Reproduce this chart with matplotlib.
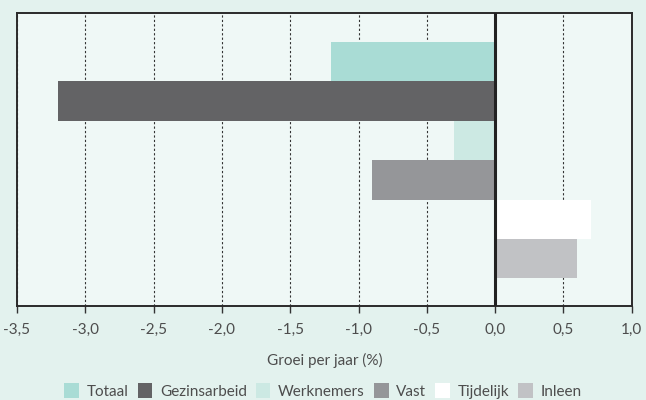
import matplotlib
matplotlib.use("Agg")
import matplotlib.pyplot as plt
import numpy as np

# series (one bar each)
series = ["Totaal", "Gezinsarbeid", "Werknemers", "Vast", "Tijdelijk", "Inleen"]
growth = [-1.2, -3.2, -0.3, -0.9, 0.7, 0.6]
colors = ["#a9dcd5", "#636365", "#cce9e3", "#959699", "#ffffff", "#c1c2c5"]

xticks = [-3.5, -3.0, -2.5, -2.0, -1.5, -1.0, -0.5, 0.0, 0.5, 1.0]
xtick_labels = [f"{v:.1f}".replace(".", ",") for v in xticks]

plt.rcParams["font.family"] = ["Lato", "DejaVu Sans"]
text_col = "#4d4d4d"

fig = plt.figure(figsize=(6.46, 4.0), dpi=100, facecolor="#e3f2ee")
ax = fig.add_axes([0.0263, 0.235, 0.9517, 0.7325])
ax.set_facecolor("#eff8f6")

bar_h = 0.1345
top = 1 - 0.099
for i, (name, val, col) in enumerate(zip(series, growth, colors)):
    y = top - bar_h * (i + 0.5)
    ax.barh(y, val, height=bar_h, color=col, label=name, zorder=3)

ax.set_ylim(0, 1)
ax.set_xlim(-3.5, 1.0)
ax.set_yticks([])
ax.set_xticks(xticks)
ax.set_xticklabels(xtick_labels)
ax.tick_params(axis="x", direction="out", length=5, width=1, color="#333333",
               labelsize=11, labelcolor=text_col, pad=7)
ax.grid(axis="x", color="#333333", linestyle=(0, (2, 2)), linewidth=0.8, zorder=1)
ax.axvline(0, color="#222222", linewidth=2.2, zorder=4)
for s in ax.spines.values():
    s.set_color("#2a2a2a")
    s.set_linewidth(1.4)

ax.set_xlabel("Groei per jaar (%)", fontsize=11, color=text_col, labelpad=12)

fig.legend(loc="center", bbox_to_anchor=(0.5, 0.0225), ncol=6, frameon=False,
           fontsize=11, handlelength=0.95, handleheight=1.15, handletextpad=0.5,
           columnspacing=0.6, labelcolor=text_col, borderpad=0)

fig.savefig("out.png", dpi=100, facecolor=fig.get_facecolor())
